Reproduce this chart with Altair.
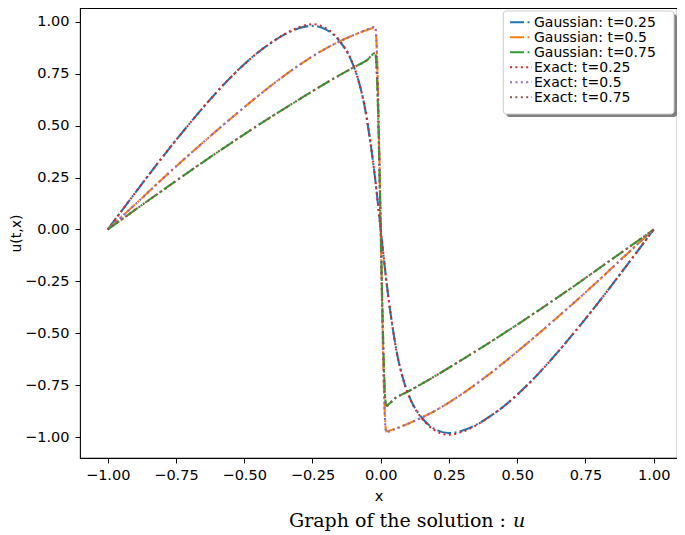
import altair as alt
import pandas as pd

# ---------------- data ----------------
# t = 0.25
x_t025 = [-1.0, -0.95, -0.9, -0.85, -0.8, -0.75, -0.7, -0.65, -0.6, -0.55, -0.5, -0.45,
          -0.4, -0.35, -0.3, -0.25, -0.2, -0.15, -0.11, -0.08, -0.06, -0.04, -0.02, 0.0,
          0.02, 0.04, 0.06, 0.08, 0.11, 0.15, 0.2, 0.25, 0.3, 0.35, 0.4, 0.45, 0.5, 0.55,
          0.6, 0.65, 0.7, 0.75, 0.8, 0.85, 0.9, 0.95, 1.0]
gauss_t025 = [0.0, 0.088, 0.175, 0.262, 0.347, 0.43, 0.51, 0.588, 0.662, 0.732, 0.795, 0.852,
              0.90, 0.94, 0.968, 0.98, 0.962, 0.905, 0.82, 0.71, 0.60, 0.44, 0.24, 0.0,
              -0.24, -0.44, -0.60, -0.71, -0.82, -0.905, -0.962, -0.98, -0.968, -0.94, -0.90,
              -0.852, -0.795, -0.732, -0.662, -0.588, -0.51, -0.43, -0.347, -0.262, -0.175, -0.088, 0.0]
exact_t025 = [0.0, 0.088, 0.175, 0.262, 0.347, 0.43, 0.51, 0.588, 0.662, 0.732, 0.795, 0.852,
              0.90, 0.942, 0.973, 0.988, 0.968, 0.908, 0.822, 0.71, 0.60, 0.44, 0.24, 0.0,
              -0.24, -0.44, -0.60, -0.71, -0.822, -0.908, -0.968, -0.988, -0.973, -0.942, -0.90,
              -0.852, -0.795, -0.732, -0.662, -0.588, -0.51, -0.43, -0.347, -0.262, -0.175, -0.088, 0.0]

# t = 0.5
x_t05 = [-1.0, -0.9, -0.8, -0.7, -0.6, -0.5, -0.4, -0.3, -0.2, -0.1, -0.05, -0.02,
         0.02, 0.05, 0.1, 0.2, 0.3, 0.4, 0.5, 0.6, 0.7, 0.8, 0.9, 1.0]
gauss_t05 = [0.0, 0.12, 0.243, 0.362, 0.477, 0.588, 0.694, 0.79, 0.872, 0.935, 0.96, 0.972,
             -0.972, -0.96, -0.935, -0.872, -0.79, -0.694, -0.588, -0.477, -0.362, -0.243, -0.12, 0.0]
exact_t05 = [0.0, 0.12, 0.243, 0.362, 0.477, 0.588, 0.694, 0.79, 0.872, 0.935, 0.962, 0.975,
             -0.975, -0.962, -0.935, -0.872, -0.79, -0.694, -0.588, -0.477, -0.362, -0.243, -0.12, 0.0]

# t = 0.75
x_t075 = [-1.0, -0.9, -0.8, -0.7, -0.6, -0.5, -0.4, -0.3, -0.2, -0.1, -0.05, -0.02,
          0.02, 0.05, 0.1, 0.2, 0.3, 0.4, 0.5, 0.6, 0.7, 0.8, 0.9, 1.0]
gauss_t075 = [0.0, 0.094, 0.187, 0.28, 0.37, 0.458, 0.543, 0.625, 0.705, 0.78, 0.815, 0.848,
              -0.848, -0.815, -0.78, -0.705, -0.625, -0.543, -0.458, -0.37, -0.28, -0.187, -0.094, 0.0]
exact_t075 = [0.0, 0.094, 0.187, 0.28, 0.37, 0.458, 0.543, 0.625, 0.705, 0.78, 0.815, 0.85,
              -0.85, -0.815, -0.78, -0.705, -0.625, -0.543, -0.458, -0.37, -0.28, -0.187, -0.094, 0.0]

series_names = ["Gaussian: t=0.25", "Gaussian: t=0.5", "Gaussian: t=0.75",
                "Exact: t=0.25", "Exact: t=0.5", "Exact: t=0.75"]
series_colors = ["#1f77b4", "#ff7f0e", "#2ca02c", "#d62728", "#9467bd", "#8c564b"]
series_dashes = [[14, 3.5, 2, 3.5], [14, 3.5, 2, 3.5], [14, 3.5, 2, 3.5],
                 [2, 3.4], [2, 3.4], [2, 3.4]]

x_ticks = [-1.0, -0.75, -0.5, -0.25, 0.0, 0.25, 0.5, 0.75, 1.0]
y_ticks = [-1.0, -0.75, -0.5, -0.25, 0.0, 0.25, 0.5, 0.75, 1.0]


def build(pairs):
    rows = []
    for name, xs, us in pairs:
        for i, (xv, uv) in enumerate(zip(xs, us)):
            rows.append({"series": name, "x": xv, "u": uv, "i": i})
    return pd.DataFrame(rows)


gauss_df = build([(series_names[0], x_t025, gauss_t025),
                  (series_names[1], x_t05, gauss_t05),
                  (series_names[2], x_t075, gauss_t075)])
exact_df = build([(series_names[3], x_t025, exact_t025),
                  (series_names[4], x_t05, exact_t05),
                  (series_names[5], x_t075, exact_t075)])
legend_df = pd.DataFrame({"series": series_names})

FONT = "DejaVu Sans"
minus_expr = "replace(datum.label, '-', '\u2212')"

x_enc = alt.X("x:Q",
              scale=alt.Scale(domain=[-1.1015, 1.0853], nice=False, zero=False),
              axis=alt.Axis(values=x_ticks, format=".2f", labelExpr=minus_expr,
                            title="x", titlePadding=8, labelPadding=5))
y_enc = alt.Y("u:Q",
              scale=alt.Scale(domain=[-1.10, 1.066], nice=False, zero=False),
              axis=alt.Axis(values=y_ticks, format=".2f", labelExpr=minus_expr,
                            title="u(t,x)", titlePadding=1, labelPadding=6,
                            titleFontSize=14))

color_enc = alt.Color("series:N",
                      scale=alt.Scale(domain=series_names, range=series_colors),
                      legend=None)
dash_enc = alt.StrokeDash("series:N",
                          scale=alt.Scale(domain=series_names, range=series_dashes),
                          legend=None)

gauss_lines = alt.Chart(gauss_df).mark_line(strokeWidth=2.1, interpolate="monotone").encode(
    x=x_enc, y=y_enc, color=color_enc, strokeDash=dash_enc, order=alt.Order("i:Q"),
    detail="series:N")
exact_lines = alt.Chart(exact_df).mark_line(strokeWidth=2.1, interpolate="monotone").encode(
    x=x_enc, y=y_enc, color=color_enc, strokeDash=dash_enc, order=alt.Order("i:Q"),
    detail="series:N")
data_layer = alt.layer(gauss_lines, exact_lines)

# ---- legend (matplotlib style box with shadow) ----
one = pd.DataFrame({"k": [0]})
shadow = alt.Chart(one).mark_rect(color="#808080", cornerRadius=3).encode(
    x=alt.value(426.3), x2=alt.value(597), y=alt.value(6), y2=alt.value(109))
box = alt.Chart(one).mark_rect(fill="white", stroke="#cccccc", strokeWidth=1,
                               cornerRadius=3).encode(
    x=alt.value(423.3), x2=alt.value(594), y=alt.value(3), y2=alt.value(106))

leg_y = alt.Y("series:N", scale=alt.Scale(type="point", domain=series_names,
                                          range=[14.2, 89.2], padding=0), axis=None)
leg_symbols = alt.Chart(legend_df).mark_rule(strokeWidth=2.1).encode(
    x=alt.value(430), x2=alt.value(452), y=leg_y, color=color_enc, strokeDash=dash_enc)
leg_labels = alt.Chart(legend_df).mark_text(
    align="left", baseline="middle", font=FONT, fontSize=14, color="black", dy=0.5).encode(
    x=alt.value(454), y=leg_y, text="series:N")
legend_layer = alt.layer(shadow, box, leg_symbols, leg_labels)

# ---- caption below the axes ----
caption_main = alt.Chart(one).mark_text(
    align="right", baseline="alphabetic", font="DejaVu Serif", fontSize=19,
    color="black", text="Graph of the solution :").encode(
    x=alt.value(426), y=alt.value(519))
caption_u = alt.Chart(one).mark_text(
    align="left", baseline="alphabetic", font="DejaVu Serif", fontSize=19,
    fontStyle="italic", color="black", text="u").encode(
    x=alt.value(433), y=alt.value(519))

chart = alt.layer(data_layer, legend_layer, caption_main, caption_u).resolve_scale(
    y="independent"
).properties(
    width=597, height=450,
    autosize=alt.AutoSizeParams(type="none"),
    padding={"left": 72, "top": 0, "right": 0, "bottom": 77},
    background="white",
).configure_view(
    stroke="black", strokeWidth=1.1
).configure_axis(
    grid=False, domain=False, tickColor="black", tickSize=5, tickWidth=1,
    labelFont=FONT, labelFontSize=14.5, labelColor="black",
    titleFont=FONT, titleFontSize=14.5, titleFontWeight="normal", titleColor="black",
)

chart.save("out.html", embed_options={"renderer": "svg", "actions": False})
